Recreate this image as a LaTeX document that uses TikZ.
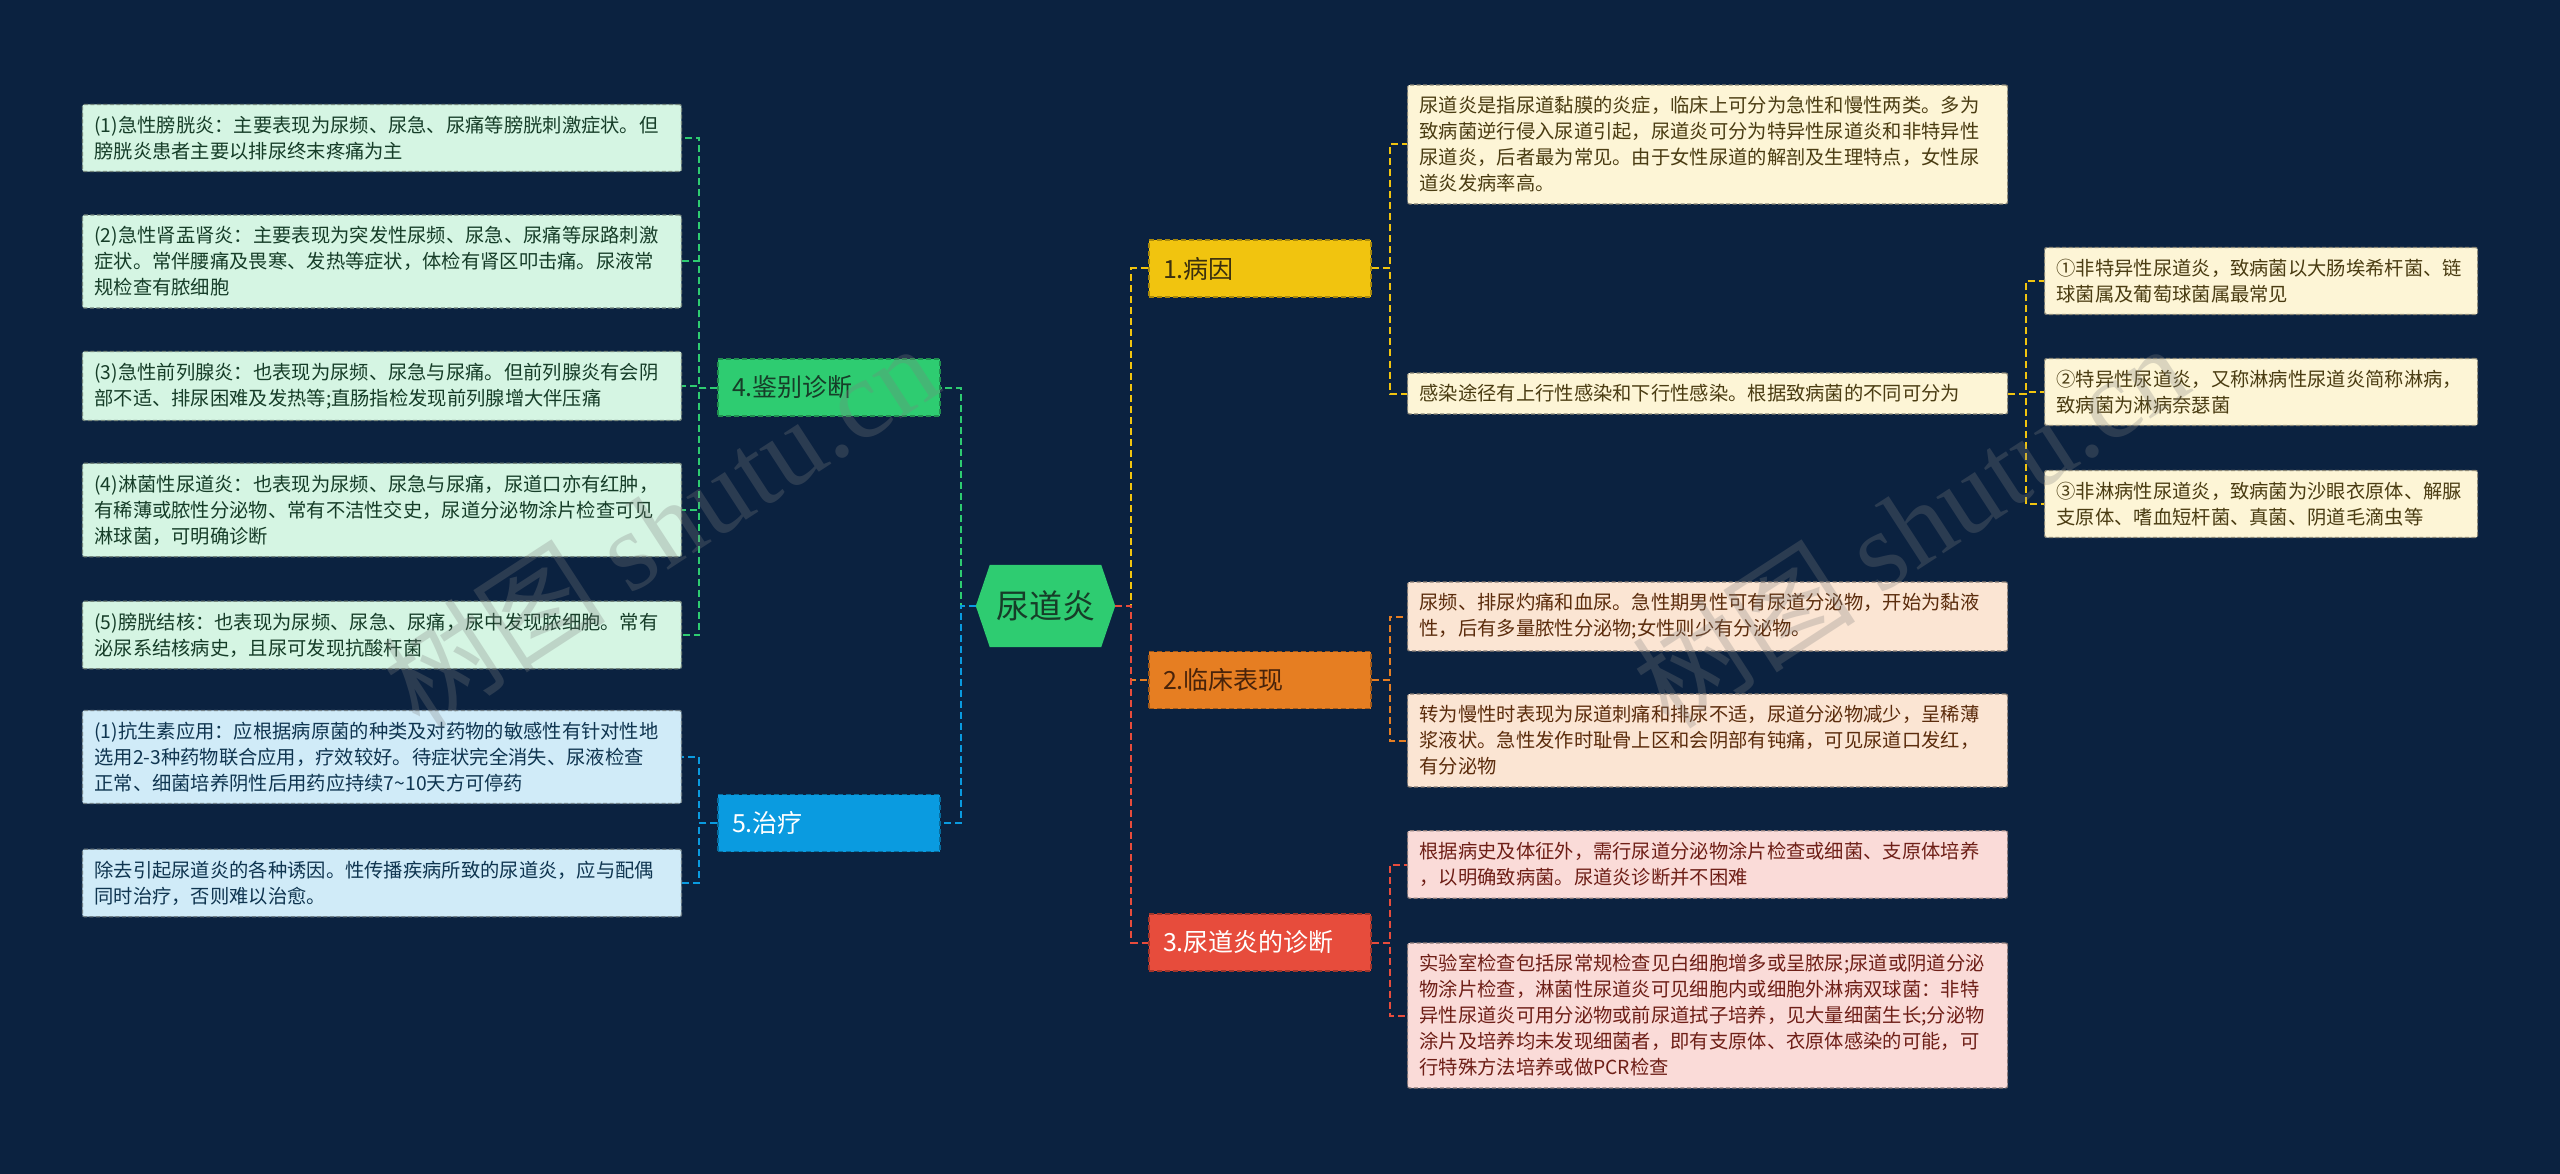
\documentclass[tikz,border=0pt]{standalone}
\usepackage{fontspec}
\setmainfont{Noto Sans CJK SC}
\newfontfamily\wmserif{Liberation Serif}
\usetikzlibrary{calc}
\pgfdeclarelayer{bglayer}
\pgfsetlayers{bglayer,main}
\definecolor{bgc}{HTML}{0B2240}
\definecolor{cyel}{HTML}{F1C40F}
\definecolor{cora}{HTML}{E67E22}
\definecolor{cred}{HTML}{E74C3C}
\definecolor{cgrn}{HTML}{2ECC71}
\definecolor{cblu}{HTML}{0A9BE0}
\definecolor{lyel}{HTML}{FDF5D6}
\definecolor{lora}{HTML}{FBE5D3}
\definecolor{lred}{HTML}{FADBD8}
\definecolor{lgrn}{HTML}{D5F5E3}
\definecolor{lblu}{HTML}{D0EBF8}
\definecolor{tyel}{HTML}{4A3C12}
\definecolor{tora}{HTML}{5B2C0C}
\definecolor{tred}{HTML}{6E1F17}
\definecolor{tgrn}{HTML}{163D28}
\definecolor{tblu}{HTML}{0F3550}
\definecolor{wmc}{HTML}{808080}
\begin{document}
\begin{tikzpicture}[x=1pt,y=-1pt,
  conn/.style={line width=2pt, dash pattern=on 7pt off 4pt},
  leafbox/.style={draw=#1!55!black, fill=#1, line width=1.2pt, dash pattern=on 4pt off 2.5pt,
    rounded corners=2pt, align=left, inner xsep=12pt, inner ysep=11.5pt,
    font=\fontsize{19.3}{26}\selectfont},
  rleaf/.style={leafbox=#1, text width=576pt, anchor=west},
  lleaf/.style={leafbox=#1, text width=575pt, anchor=east},
  sleaf/.style={leafbox=#1, text width=409pt, anchor=west},
  branch/.style={draw=#1!70!black, fill=#1, line width=1.5pt, dash pattern=on 5pt off 3pt,
    minimum width=222pt, minimum height=57pt, text width=194pt, align=left,
    inner xsep=14pt, font=\fontsize{25}{29}\selectfont},
  wmark/.style={rotate=33, text=wmc, opacity=0.28, font=\fontsize{112}{116}\selectfont},
]
\useasboundingbox (0,0) rectangle (2560,1174);

% root
\node[font=\fontsize{33}{36}\selectfont, text=tgrn, minimum width=139pt, minimum height=82pt, inner sep=0pt] (root) at (1045.5,606) {尿道炎};

% branches
\node[branch=cyel, text=tyel!80!black] (b1) at (1260,268.5) {1.病因};
\node[branch=cora, text=tora!80!black] (b2) at (1260,680) {2.临床表现};
\node[branch=cred, text=white] (b3) at (1260,942.5) {3.尿道炎的诊断};
\node[branch=cgrn, text=tgrn] (b4) at (829,387.5) {4.鉴别诊断};
\node[branch=cblu, text=white] (b5) at (829,823) {5.治疗};

% right leaves
\node[rleaf=lyel, text=tyel] (r1a) at (1407,144.5) {尿道炎是指尿道黏膜的炎症，临床上可分为急性和慢性两类。多为\\致病菌逆行侵入尿道引起，尿道炎可分为特异性尿道炎和非特异性\\尿道炎，后者最为常见。由于女性尿道的解剖及生理特点，女性尿\\道炎发病率高。};
\node[rleaf=lyel, text=tyel] (r1b) at (1407,393.5) {感染途径有上行性感染和下行性感染。根据致病菌的不同可分为};
\node[sleaf=lyel, text=tyel] (s1) at (2044,281) {①非特异性尿道炎，致病菌以大肠埃希杆菌、链\\球菌属及葡萄球菌属最常见};
\node[sleaf=lyel, text=tyel] (s2) at (2044,392) {②特异性尿道炎，又称淋病性尿道炎简称淋病，\\致病菌为淋病奈瑟菌};
\node[sleaf=lyel, text=tyel] (s3) at (2044,504) {③非淋病性尿道炎，致病菌为沙眼衣原体、解脲\\支原体、嗜血短杆菌、真菌、阴道毛滴虫等};
\node[rleaf=lora, text=tora] (r2a) at (1407,616.5) {尿频、排尿灼痛和血尿。急性期男性可有尿道分泌物，开始为黏液\\性，后有多量脓性分泌物;女性则少有分泌物。};
\node[rleaf=lora, text=tora] (r2b) at (1407,740.5) {转为慢性时表现为尿道刺痛和排尿不适，尿道分泌物减少，呈稀薄\\浆液状。急性发作时耻骨上区和会阴部有钝痛，可见尿道口发红，\\有分泌物};
\node[rleaf=lred, text=tred] (r3a) at (1407,864.5) {根据病史及体征外，需行尿道分泌物涂片检查或细菌、支原体培养\\，以明确致病菌。尿道炎诊断并不困难};
\node[rleaf=lred, text=tred] (r3b) at (1407,1015.5) {实验室检查包括尿常规检查见白细胞增多或呈脓尿;尿道或阴道分泌\\物涂片检查，淋菌性尿道炎可见细胞内或细胞外淋病双球菌：非特\\异性尿道炎可用分泌物或前尿道拭子培养，见大量细菌生长;分泌物\\涂片及培养均未发现细菌者，即有支原体、衣原体感染的可能，可\\行特殊方法培养或做PCR检查};

% left leaves
\node[lleaf=lgrn, text=tgrn] (l1) at (682,138) {(1)急性膀胱炎：主要表现为尿频、尿急、尿痛等膀胱刺激症状。但\\膀胱炎患者主要以排尿终末疼痛为主};
\node[lleaf=lgrn, text=tgrn] (l2) at (682,261.5) {(2)急性肾盂肾炎：主要表现为突发性尿频、尿急、尿痛等尿路刺激\\症状。常伴腰痛及畏寒、发热等症状，体检有肾区叩击痛。尿液常\\规检查有脓细胞};
\node[lleaf=lgrn, text=tgrn] (l3) at (682,386) {(3)急性前列腺炎：也表现为尿频、尿急与尿痛。但前列腺炎有会阴\\部不适、排尿困难及发热等;直肠指检发现前列腺增大伴压痛};
\node[lleaf=lgrn, text=tgrn] (l4) at (682,510) {(4)淋菌性尿道炎：也表现为尿频、尿急与尿痛，尿道口亦有红肿，\\有稀薄或脓性分泌物、常有不洁性交史，尿道分泌物涂片检查可见\\淋球菌，可明确诊断};
\node[lleaf=lgrn, text=tgrn] (l5) at (682,635) {(5)膀胱结核：也表现为尿频、尿急、尿痛，尿中发现脓细胞。常有\\泌尿系结核病史，且尿可发现抗酸杆菌};
\node[lleaf=lblu, text=tblu] (t1) at (682,757) {(1)抗生素应用：应根据病原菌的种类及对药物的敏感性有针对性地\\选用2-3种药物联合应用，疗效较好。待症状完全消失、尿液检查\\正常、细菌培养阴性后用药应持续7\textasciitilde 10天方可停药};
\node[lleaf=lblu, text=tblu] (t2) at (682,883) {除去引起尿道炎的各种诱因。性传播疾病所致的尿道炎，应与配偶\\同时治疗，否则难以治愈。};

\begin{pgfonlayer}{bglayer}
\fill[bgc] (0,0) rectangle (2560,1174);
\fill[cgrn] (root.west) -- ($(root.north west)+(14,0)$) -- ($(root.north east)+(-14,0)$) -- (root.east)
  -- ($(root.south east)+(-14,0)$) -- ($(root.south west)+(14,0)$) -- cycle;
% root connectors
\draw[conn, cora] (root.east) -- ++(16,0) |- (b2.west);
\draw[conn, cyel] (root.east) -- ++(16,0) |- (b1.west);
\draw[conn, cred] (root.east) -- ++(16,0) |- (b3.west);
\draw[conn, cgrn] (root.west) -- ++(-15,0) |- (b4.east);
\draw[conn, cblu] (root.west) -- ++(-15,0) |- (b5.east);
% branch connectors
\foreach \c in {r1a,r1b} \draw[conn, cyel] (b1.east) -- ++(18,0) |- (\c.west);
\foreach \c in {s1,s2,s3} \draw[conn, cyel] (r1b.east) -- ++(18,0) |- (\c.west);
\foreach \c in {r2a,r2b} \draw[conn, cora] (b2.east) -- ++(18,0) |- (\c.west);
\foreach \c in {r3a,r3b} \draw[conn, cred] (b3.east) -- ++(18,0) |- (\c.west);
\foreach \c in {l1,l2,l3,l4,l5} \draw[conn, cgrn] (b4.west) -- ++(-18,0) |- (\c.east);
\foreach \c in {t1,t2} \draw[conn, cblu] (b5.west) -- ++(-18,0) |- (\c.east);
\end{pgfonlayer}

% watermarks
\node[wmark] (wm1) at (660,525) {树图 {\wmserif shutu.cn}};
\node[wmark] (wm2) at (1910,525) {树图 {\wmserif shutu.cn}};
\end{tikzpicture}
\end{document}
